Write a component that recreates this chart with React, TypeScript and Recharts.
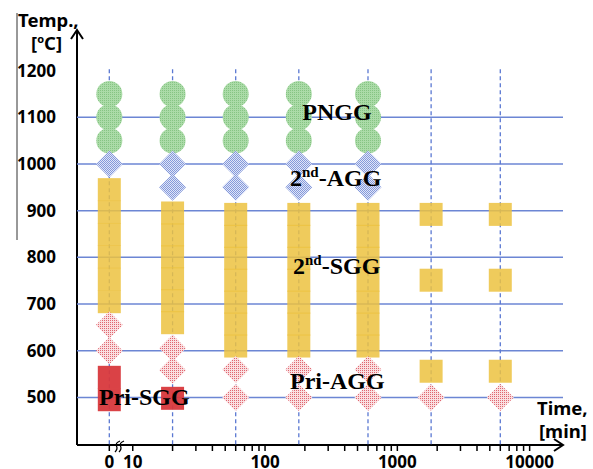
import { ScatterChart, Scatter, XAxis, YAxis, Customized } from "recharts";

// annealing times [min]; "0" is drawn left of the axis break
const TIMES = [0, 20, 60, 180, 600, 1800, 6000];
const ZERO_POS = 6.65;

// temperatures [°C] per time column
const PNGG_TEMPS = [
  [1150, 1100, 1050],
  [1150, 1100, 1050],
  [1150, 1100, 1050],
  [1150, 1100, 1050],
  [1150, 1100, 1050],
  [],
  [],
];
const AGG2_TEMPS = [[1000], [1000, 950], [1000, 950], [1000, 950], [1000, 950], [], []];
const SGG2_TEMPS = [
  [945, 897, 849, 801, 753, 705],
  [895, 848, 801, 754, 707, 660],
  [892, 845, 798, 751, 704, 657, 610],
  [892, 845, 798, 751, 704, 657, 610],
  [892, 845, 798, 751, 704, 657, 610],
  [892, 751, 556],
  [892, 751, 556],
];
const PRI_AGG_TEMPS = [[655, 600], [605, 558], [560, 500], [560, 500], [560, 500], [500], [500]];
const PRI_SGG_TEMPS = [[543, 495], [498], [], [], [], [], []];

const X_DOMAIN = [3.79, 17870];
const Y_DOMAIN = [398, 1287];
const Y_TICKS = [500, 600, 700, 800, 900, 1000, 1100, 1200];
const GRID_TEMPS = [500, 600, 700, 800, 900, 1000, 1100];
const GUIDE_TOP = 1203;
const X_LABELS = [10, 100, 1000, 10000];
const X_MINOR = [
  20, 30, 40, 50, 60, 70, 80, 90,
  200, 300, 400, 500, 600, 700, 800, 900,
  2000, 3000, 4000, 5000, 6000, 7000, 8000, 9000,
];
const X_TICKS = [ZERO_POS, ...X_LABELS, ...X_MINOR].sort((a, b) => a - b);

const toX = (t: number) => (t === 0 ? ZERO_POS : t);
const points = (temps: number[][]) =>
  TIMES.flatMap((t, i) => temps[i].map((temp) => ({ x: toX(t), temp })));

const SANS = "'Noto Sans', 'DejaVu Sans', sans-serif";
const SERIF = "'Liberation Serif', 'Times New Roman', serif";
const GRID = "#6c86d4";

const none = () => <g />;
const circle = (p: any) => <circle cx={p.cx} cy={p.cy} r={13} fill="url(#greenDots)" />;
const diamond = (fill: string) => (p: any) => (
  <path
    d={`M${p.cx},${p.cy - 13.5} L${p.cx + 13.5},${p.cy} L${p.cx},${p.cy + 13.5} L${p.cx - 13.5},${p.cy} Z`}
    fill={fill}
  />
);
const square = (fill: string, opacity: number) => (p: any) => (
  <rect x={p.cx - 11.5} y={p.cy - 11.5} width={23} height={23} fill={fill} fillOpacity={opacity} />
);

function Patterns() {
  return (
    <defs>
      <pattern id="greenDots" width="2" height="2" patternUnits="userSpaceOnUse">
        <rect width="2" height="2" fill="#abdba8" />
        <rect width="1" height="1" fill="#86c483" />
      </pattern>
      <pattern id="blueCheck" width="2" height="2" patternUnits="userSpaceOnUse">
        <rect width="2" height="2" fill="#dfe5f8" />
        <rect width="1" height="1" fill="#8599da" />
        <rect x="1" y="1" width="1" height="1" fill="#8599da" />
      </pattern>
      <pattern id="redDots" width="2" height="2" patternUnits="userSpaceOnUse">
        <rect width="2" height="2" fill="#fadfe1" />
        <rect width="1" height="1" fill="#e06770" />
      </pattern>
    </defs>
  );
}

function Annotations() {
  return (
    <svg width={593} height={469} style={{ position: "absolute", left: 0, top: 0, pointerEvents: "none" }}>
      {/* axis arrows and break */}
      <path d="M71,39 L77,30 L83,39" stroke="#000" strokeWidth={2} fill="none" />
      <path d="M554,439 L563,445 L554,451" stroke="#000" strokeWidth={2} fill="none" />
      <path d="M115,452 Q118,449 116.5,446 T120,441" stroke="#000" strokeWidth={1.3} fill="none" />
      <path d="M119,452 Q122,449 120.5,446 T124,441" stroke="#000" strokeWidth={1.3} fill="none" />
      <line x1={17} y1={13} x2={17} y2={240} stroke="#333" strokeWidth={1} />
      {/* axis titles */}
      <text x={18} y={27} fontFamily={SANS} fontWeight="bold" fontSize={18.5}>Temp.,</text>
      <text x={31} y={50} fontFamily={SANS} fontWeight="bold" fontSize={18.5}>
        [<tspan fontSize={11} dy={-7}>o</tspan>
        <tspan dy={7}>C]</tspan>
      </text>
      <text x={537} y={415} fontFamily={SANS} fontWeight="bold" fontSize={18.5}>Time,</text>
      <text x={539} y={438} fontFamily={SANS} fontWeight="bold" fontSize={18.5}>[min]</text>
      {/* region labels */}
      <g fontFamily={SERIF} fontWeight="bold" fontSize={24} fill="#000">
        <text x={337} y={120} textAnchor="middle">PNGG</text>
        <text x={290} y={186}>
          2<tspan fontSize={15} dy={-9}>nd</tspan>
          <tspan dy={9}>-AGG</tspan>
        </text>
        <text x={293} y={274}>
          2<tspan fontSize={15} dy={-9}>nd</tspan>
          <tspan dy={9}>-SGG</tspan>
        </text>
        <text x={290} y={389}>Pri-AGG</text>
        <text x={99} y={405}>Pri-SGG</text>
      </g>
    </svg>
  );
}

export default function App() {
  return (
    <div style={{ position: "absolute", left: 0, top: 0, width: 593, height: 469, background: "#fff" }}>
      <ScatterChart width={593} height={469} margin={{ top: 30, right: 30, bottom: 0, left: 0 }}>
        <Customized component={Patterns} />
        <XAxis
          type="number"
          dataKey="x"
          scale="log"
          domain={X_DOMAIN}
          allowDataOverflow
          ticks={X_TICKS}
          interval={0}
          height={24}
          tickSize={6}
          tickMargin={5}
          tickFormatter={(v: number) => (v === ZERO_POS ? "0" : X_LABELS.includes(v) ? String(v) : "")}
          axisLine={{ stroke: "#000", strokeWidth: 2 }}
          tickLine={{ stroke: "#000", strokeWidth: 1.5 }}
          tick={{ fill: "#000", fontFamily: SANS, fontWeight: "bold", fontSize: 17 }}
        />
        <YAxis
          type="number"
          dataKey="temp"
          domain={Y_DOMAIN}
          allowDataOverflow
          ticks={Y_TICKS}
          interval={0}
          width={77}
          tickSize={0}
          tickMargin={21}
          tickLine={false}
          axisLine={{ stroke: "#000", strokeWidth: 2 }}
          tick={{ fill: "#000", fontFamily: SANS, fontWeight: "bold", fontSize: 17 }}
        />
        {/* solid horizontal guides */}
        {GRID_TEMPS.map((t) => (
          <Scatter
            key={`h${t}`}
            data={[{ x: X_DOMAIN[0], temp: t }, { x: X_DOMAIN[1], temp: t }]}
            line={{ stroke: GRID, strokeWidth: 1.5 }}
            shape={none}
            isAnimationActive={false}
          />
        ))}
        {/* dashed vertical guides at each time */}
        {TIMES.map((t) => (
          <Scatter
            key={`v${t}`}
            data={[{ x: toX(t), temp: GUIDE_TOP }, { x: toX(t), temp: Y_DOMAIN[0] }]}
            line={{ stroke: "#5a78d2", strokeWidth: 1.3, strokeDasharray: "4 3" }}
            shape={none}
            isAnimationActive={false}
          />
        ))}
        <Scatter data={points(SGG2_TEMPS)} shape={square("#ecc240", 0.85)} isAnimationActive={false} />
        <Scatter data={points(PNGG_TEMPS)} shape={circle} isAnimationActive={false} />
        <Scatter data={points(AGG2_TEMPS)} shape={diamond("url(#blueCheck)")} isAnimationActive={false} />
        <Scatter data={points(PRI_AGG_TEMPS)} shape={diamond("url(#redDots)")} isAnimationActive={false} />
        <Scatter data={points(PRI_SGG_TEMPS)} shape={square("#d8383c", 0.95)} isAnimationActive={false} />
      </ScatterChart>
      <Annotations />
    </div>
  );
}
